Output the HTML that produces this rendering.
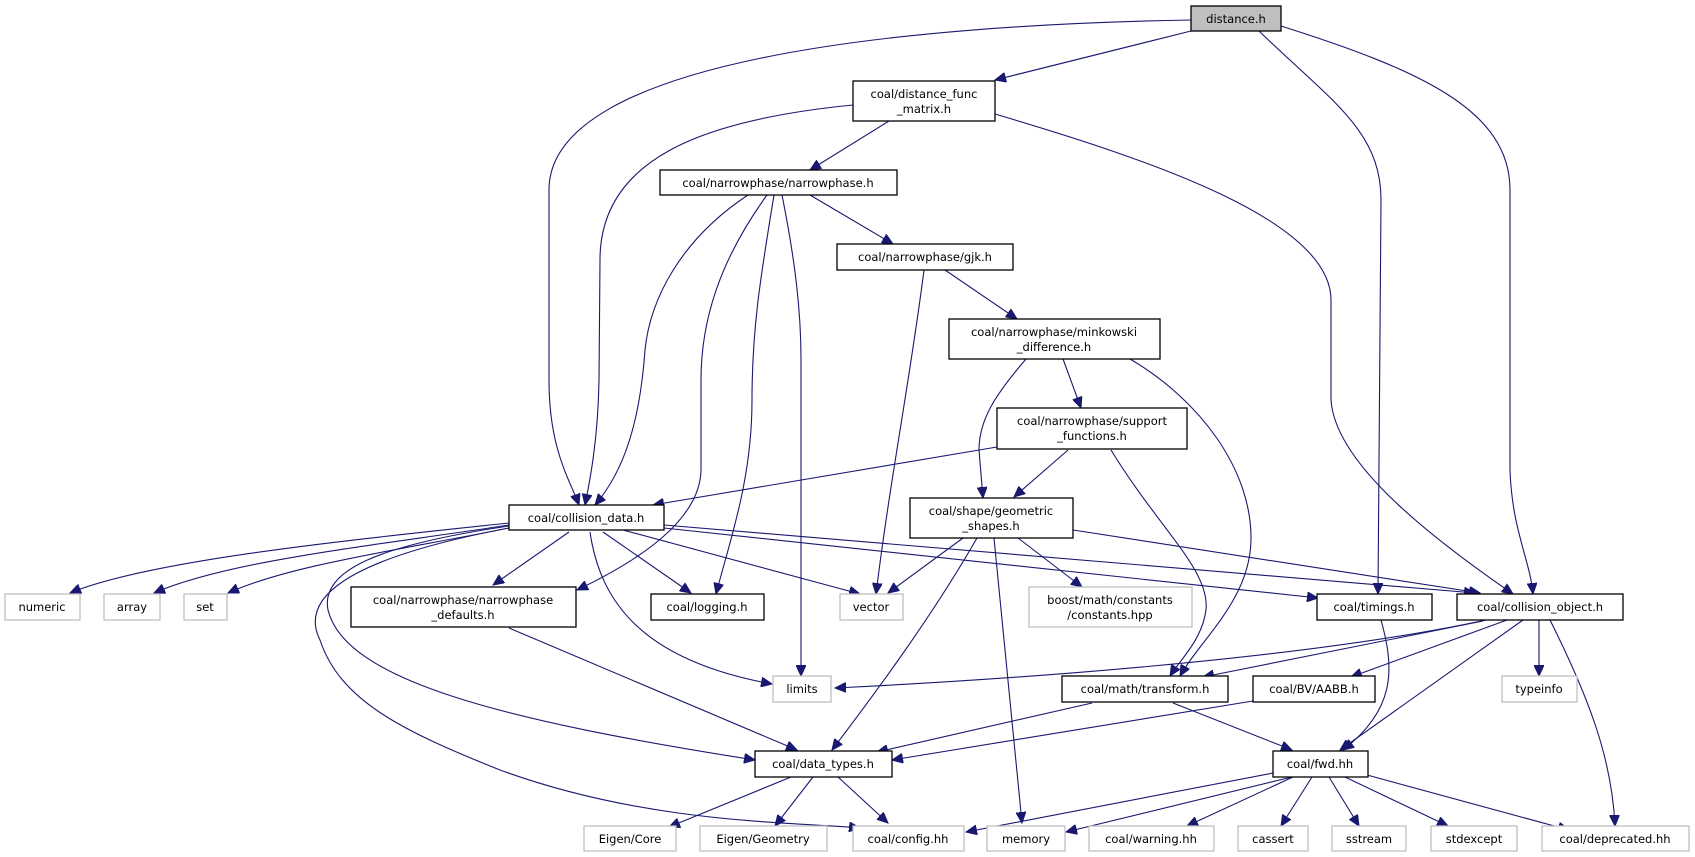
<!DOCTYPE html>
<html><head><meta charset="utf-8"><style>
html,body{margin:0;padding:0;background:#fff;}
svg{display:block;}
text{font-family:"DejaVu Sans","Liberation Sans",sans-serif;font-size:11.5px;fill:#000;text-anchor:middle;}
.n{fill:#fff;stroke:#000;stroke-width:1.3;}
.g{fill:#fff;stroke:#bfbfbf;stroke-width:1.3;}
.e{fill:none;stroke:#191970;stroke-width:1.1;marker-end:url(#a);}
</style></head><body>
<svg width="1695" height="857" viewBox="0 0 1695 857" xmlns="http://www.w3.org/2000/svg">
<defs><marker id="a" markerUnits="userSpaceOnUse" markerWidth="12" markerHeight="10" refX="11" refY="5" orient="auto"><path d="M0,0 L11,5 L0,10 z" fill="#191970" stroke="#191970"/></marker></defs>
<g>
<path class="e" d="M1191,20 C900,25 549,60 549,190 L549,380 C549,450 570,480 579,505"/>
<path class="e" d="M1191,31 L995,80"/>
<path class="e" d="M1259,31 C1330,100 1381,130 1381,200 L1378,594"/>
<path class="e" d="M1281,26 C1420,70 1510,110 1510,190 L1510,470 C1512,530 1530,560 1533,594"/>
<path class="e" d="M853,105 C700,120 600,160 600,260 L599,380 C598,440 590,480 585,505"/>
<path class="e" d="M889,121 L810,170"/>
<path class="e" d="M995,114 C1150,160 1331,220 1331,300 L1331,400 C1335,460 1420,530 1513,594"/>
<path class="e" d="M748,195 C680,240 650,300 645,350 C640,420 625,470 595,505"/>
<path class="e" d="M767,195 C720,260 701,320 701,380 L701,470 C700,520 640,560 577,590"/>
<path class="e" d="M774,195 C760,280 752,330 752,400 C752,480 730,540 716,594"/>
<path class="e" d="M782,195 C795,260 801,310 801,360 L801,676"/>
<path class="e" d="M810,195 L893,244"/>
<path class="e" d="M924,270 C910,380 890,480 876,594"/>
<path class="e" d="M945,270 L1017,319"/>
<path class="e" d="M1026,359 C995,395 979,420 979,450 L983,498"/>
<path class="e" d="M1063,359 L1081,408"/>
<path class="e" d="M1130,359 C1200,400 1252,470 1251,540 C1250,600 1200,640 1180,676"/>
<path class="e" d="M997,447 L653,505"/>
<path class="e" d="M1068,450 L1014,497"/>
<path class="e" d="M1111,450 C1160,530 1210,570 1206,610 C1202,640 1180,660 1170,676"/>
<path class="e" d="M963,538 L888,593"/>
<path class="e" d="M977,538 C930,620 870,700 832,750"/>
<path class="e" d="M994,538 L1022,823"/>
<path class="e" d="M1018,538 L1082,587"/>
<path class="e" d="M1073,530 L1480,593"/>
<path class="e" d="M509,523 C350,540 150,560 70,593"/>
<path class="e" d="M509,525 C380,545 230,560 154,593"/>
<path class="e" d="M509,528 C400,550 290,565 228,593"/>
<path class="e" d="M569,532 L493,585"/>
<path class="e" d="M603,532 L691,593"/>
<path class="e" d="M623,530 L860,594"/>
<path class="e" d="M590,532 C600,600 640,660 772,684"/>
<path class="e" d="M664,528 L1318,598"/>
<path class="e" d="M664,525 L1475,593"/>
<path class="e" d="M509,526 C380,545 320,570 328,610 C345,680 500,720 755,760"/>
<path class="e" d="M509,528 C340,560 300,600 320,640 C340,700 400,730 500,770 C650,825 800,822 860,828"/>
<path class="e" d="M509,628 L797,750"/>
<path class="e" d="M791,777 L669,827"/>
<path class="e" d="M813,777 L775,826"/>
<path class="e" d="M838,777 L888,823"/>
<path class="e" d="M1092,703 L877,752"/>
<path class="e" d="M1173,703 L1292,750"/>
<path class="e" d="M1253,701 L892,760"/>
<path class="e" d="M1381,620 C1395,670 1395,710 1343,750"/>
<path class="e" d="M1486,620 C1300,660 1000,680 835,688"/>
<path class="e" d="M1483,621 L1203,677"/>
<path class="e" d="M1507,620 L1351,677"/>
<path class="e" d="M1523,620 L1340,750"/>
<path class="e" d="M1539,620 L1539,676"/>
<path class="e" d="M1550,620 C1590,700 1612,760 1615,826"/>
<path class="e" d="M1273,773 L966,832"/>
<path class="e" d="M1292,777 L1066,832"/>
<path class="e" d="M1293,777 L1187,826"/>
<path class="e" d="M1312,777 L1281,826"/>
<path class="e" d="M1329,777 L1359,826"/>
<path class="e" d="M1345,777 L1448,826"/>
<path class="e" d="M1367,775 L1569,830"/>
</g>
<g>
<rect x="1191" y="6" width="90" height="25" fill="#bfbfbf" stroke="#000" stroke-width="1.3"/><text x="1236" y="23">distance.h</text>
<rect class="n" x="853" y="81" width="142" height="40"/><text x="924" y="98">coal/distance_func</text><text x="924" y="113">_matrix.h</text>
<rect class="n" x="660" y="170" width="237" height="25"/><text x="778" y="187">coal/narrowphase/narrowphase.h</text>
<rect class="n" x="837" y="244" width="176" height="26"/><text x="925" y="261">coal/narrowphase/gjk.h</text>
<rect class="n" x="949" y="319" width="211" height="40"/><text x="1054" y="336">coal/narrowphase/minkowski</text><text x="1054" y="351">_difference.h</text>
<rect class="n" x="997" y="408" width="190" height="41"/><text x="1092" y="425">coal/narrowphase/support</text><text x="1092" y="440">_functions.h</text>
<rect class="n" x="509" y="505" width="155" height="25"/><text x="586" y="522">coal/collision_data.h</text>
<rect class="n" x="910" y="498" width="163" height="40"/><text x="991" y="515">coal/shape/geometric</text><text x="991" y="530">_shapes.h</text>
<rect class="g" x="5" y="594" width="75" height="26"/><text x="42" y="611">numeric</text>
<rect class="g" x="104" y="594" width="56" height="26"/><text x="132" y="611">array</text>
<rect class="g" x="184" y="594" width="43" height="26"/><text x="205" y="611">set</text>
<rect class="n" x="351" y="587" width="225" height="40"/><text x="463" y="604">coal/narrowphase/narrowphase</text><text x="463" y="619">_defaults.h</text>
<rect class="n" x="651" y="594" width="113" height="26"/><text x="707" y="611">coal/logging.h</text>
<rect class="g" x="840" y="594" width="63" height="26"/><text x="871" y="611">vector</text>
<rect class="g" x="1029" y="587" width="163" height="40"/><text x="1110" y="604">boost/math/constants</text><text x="1110" y="619">/constants.hpp</text>
<rect class="n" x="1317" y="594" width="115" height="26"/><text x="1374" y="611">coal/timings.h</text>
<rect class="n" x="1457" y="594" width="166" height="26"/><text x="1540" y="611">coal/collision_object.h</text>
<rect class="g" x="773" y="676" width="58" height="26"/><text x="802" y="693">limits</text>
<rect class="n" x="1062" y="676" width="166" height="26"/><text x="1145" y="693">coal/math/transform.h</text>
<rect class="n" x="1253" y="676" width="122" height="26"/><text x="1314" y="693">coal/BV/AABB.h</text>
<rect class="g" x="1502" y="676" width="75" height="26"/><text x="1539" y="693">typeinfo</text>
<rect class="n" x="755" y="751" width="137" height="26"/><text x="823" y="768">coal/data_types.h</text>
<rect class="n" x="1273" y="751" width="95" height="26"/><text x="1320" y="768">coal/fwd.hh</text>
<rect class="g" x="584" y="826" width="92" height="25"/><text x="630" y="843">Eigen/Core</text>
<rect class="g" x="700" y="826" width="127" height="25"/><text x="763" y="843">Eigen/Geometry</text>
<rect class="g" x="853" y="826" width="111" height="25"/><text x="908" y="843">coal/config.hh</text>
<rect class="g" x="987" y="826" width="78" height="25"/><text x="1026" y="843">memory</text>
<rect class="g" x="1089" y="826" width="125" height="25"/><text x="1151" y="843">coal/warning.hh</text>
<rect class="g" x="1238" y="826" width="70" height="25"/><text x="1273" y="843">cassert</text>
<rect class="g" x="1332" y="826" width="74" height="25"/><text x="1369" y="843">sstream</text>
<rect class="g" x="1431" y="826" width="86" height="25"/><text x="1474" y="843">stdexcept</text>
<rect class="g" x="1542" y="826" width="147" height="25"/><text x="1615" y="843">coal/deprecated.hh</text>
</g>
</svg>
</body></html>
